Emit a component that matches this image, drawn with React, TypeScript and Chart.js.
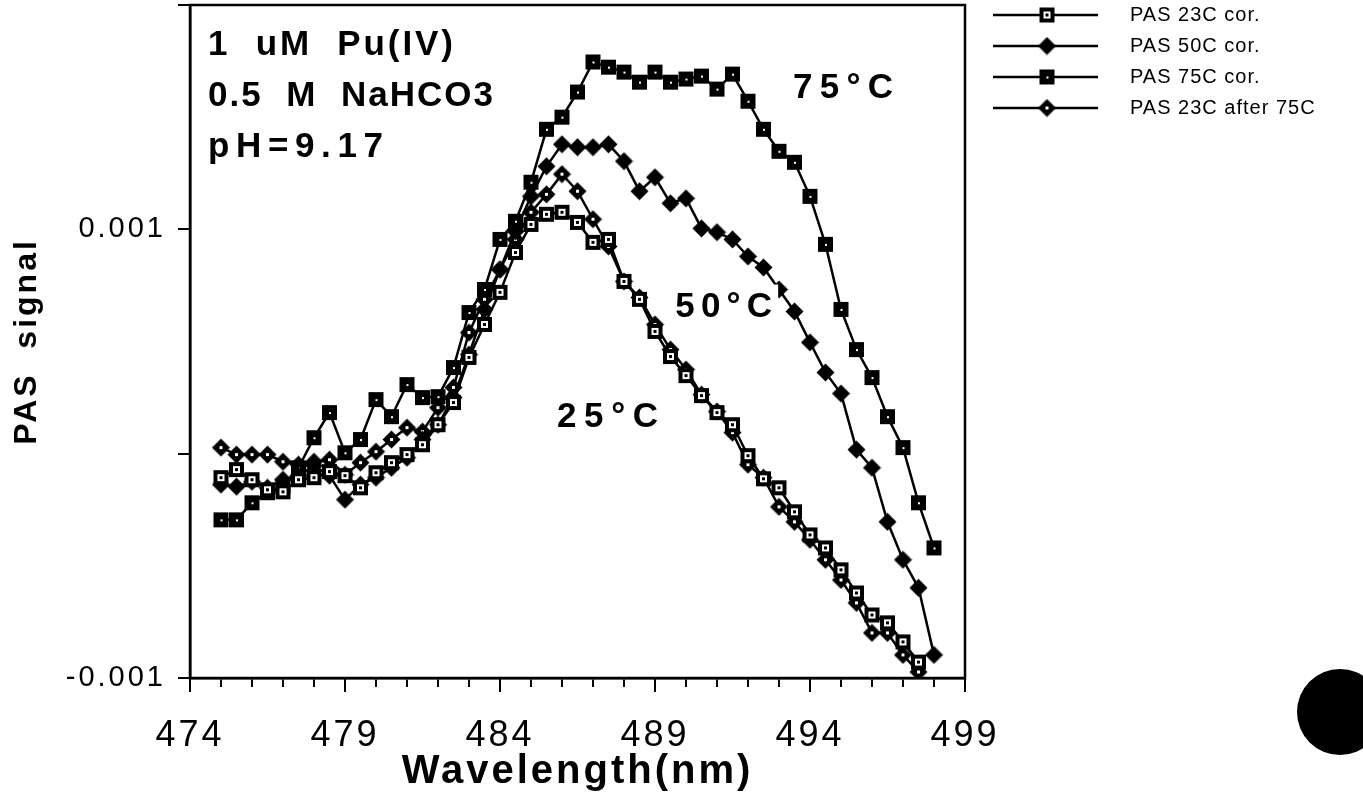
import React, { useEffect, useRef } from 'react';
import { Chart, registerables } from 'chart.js';

Chart.register(...registerables);

// ---------- data ----------
const wavelengths = [
  475, 475.5, 476, 476.5, 477, 477.5, 478, 478.5, 479, 479.5,
  480, 480.5, 481, 481.5, 482, 482.5, 483, 483.5, 484, 484.5,
  485, 485.5, 486, 486.5, 487, 487.5, 488, 488.5, 489, 489.5,
  490, 490.5, 491, 491.5, 492, 492.5, 493, 493.5, 494, 494.5,
  495, 495.5, 496, 496.5, 497, 497.5, 498,
];

const pas23 = [
  -0.107e-3, -0.071e-3, -0.116e-3, -0.161e-3, -0.170e-3, -0.116e-3, -0.107e-3, -0.080e-3, -0.098e-3, -0.152e-3,
  -0.085e-3, -0.040e-3, -0.004e-3, 0.040e-3, 0.129e-3, 0.228e-3, 0.429e-3, 0.576e-3, 0.719e-3, 0.897e-3,
  1.022e-3, 1.067e-3, 1.076e-3, 1.031e-3, 0.942e-3, 0.955e-3, 0.768e-3, 0.688e-3, 0.545e-3, 0.433e-3,
  0.348e-3, 0.259e-3, 0.183e-3, 0.129e-3, -0.009e-3, -0.112e-3, -0.152e-3, -0.259e-3, -0.362e-3, -0.420e-3,
  -0.518e-3, -0.621e-3, -0.719e-3, -0.754e-3, -0.839e-3, -0.929e-3, null,
];

const pas50 = [
  -0.138e-3, -0.147e-3, -0.125e-3, -0.152e-3, -0.116e-3, -0.098e-3, -0.054e-3, -0.098e-3, -0.205e-3, -0.138e-3,
  -0.107e-3, -0.063e-3, -0.018e-3, 0.063e-3, 0.129e-3, 0.250e-3, 0.442e-3, 0.643e-3, 0.821e-3, 0.991e-3,
  1.147e-3, 1.281e-3, 1.379e-3, 1.366e-3, 1.366e-3, 1.379e-3, 1.304e-3, 1.170e-3, 1.232e-3, 1.116e-3,
  1.138e-3, 1.004e-3, 0.987e-3, 0.955e-3, 0.879e-3, 0.830e-3, 0.732e-3, 0.634e-3, 0.496e-3, 0.362e-3,
  0.268e-3, 0.018e-3, -0.063e-3, -0.304e-3, -0.473e-3, -0.598e-3, -0.897e-3,
];

const pas75 = [
  -0.295e-3, -0.295e-3, -0.219e-3, -0.174e-3, -0.147e-3, -0.063e-3, 0.071e-3, 0.183e-3, 0.004e-3, 0.063e-3,
  0.241e-3, 0.165e-3, 0.308e-3, 0.250e-3, 0.254e-3, 0.384e-3, 0.629e-3, 0.732e-3, 0.955e-3, 1.036e-3,
  1.210e-3, 1.446e-3, 1.500e-3, 1.612e-3, 1.746e-3, 1.723e-3, 1.701e-3, 1.656e-3, 1.701e-3, 1.656e-3,
  1.670e-3, 1.683e-3, 1.625e-3, 1.692e-3, 1.571e-3, 1.446e-3, 1.348e-3, 1.299e-3, 1.147e-3, 0.933e-3,
  0.643e-3, 0.464e-3, 0.339e-3, 0.165e-3, 0.027e-3, -0.219e-3, -0.420e-3,
];

const pas23after75 = [
  0.027e-3, -0.004e-3, -0.004e-3, -0.004e-3, -0.036e-3, -0.049e-3, -0.036e-3, -0.027e-3, -0.094e-3, -0.040e-3,
  0.009e-3, 0.063e-3, 0.116e-3, 0.098e-3, 0.205e-3, 0.295e-3, 0.540e-3, 0.688e-3, 0.821e-3, 0.955e-3,
  1.076e-3, 1.156e-3, 1.246e-3, 1.170e-3, 1.045e-3, 0.924e-3, 0.768e-3, 0.696e-3, 0.576e-3, 0.464e-3,
  0.375e-3, 0.263e-3, 0.188e-3, 0.094e-3, -0.049e-3, -0.107e-3, -0.237e-3, -0.304e-3, -0.384e-3, -0.473e-3,
  -0.563e-3, -0.665e-3, -0.799e-3, -0.799e-3, -0.897e-3, -0.973e-3, null,
];

const seriesLabels = ['PAS 23C cor.', 'PAS 50C cor.', 'PAS 75C cor.', 'PAS 23C after 75C'];
const xTickLabels = [474, 479, 484, 489, 494, 499];
const yTickLabels = [-0.001, 0.001];
const infoLines = ['1  uM  Pu(IV)', '0.5  M  NaHCO3', 'pH=9.17'];
const tempLabels = ['75°C', '50°C', '25°C'];
const xTitle = 'Wavelength(nm)';
const yTitle = 'PAS  signal';

// ---------- layout / style (not data) ----------
const FONT = '"Liberation Sans", Arial, Helvetica, sans-serif';
const infoAnchor = { x: 474.58, ys: [1.777e-3, 1.549e-3, 1.321e-3], widths: [245, 285, 175] };
const tempAnchors = [
  { x: 493.45, y: 1.585e-3, w: 100 },
  { x: 489.65, y: 0.607e-3, w: 97 },
  { x: 485.84, y: 0.121e-3, w: 101 },
];

function makeMarker(kind: string): HTMLCanvasElement {
  const c = document.createElement('canvas');
  c.width = 19;
  c.height = 19;
  const g = c.getContext('2d')!;
  g.fillStyle = '#000';
  if (kind === 'openSquare') {
    g.fillRect(2, 2, 15, 15);
    g.fillStyle = '#fff';
    g.fillRect(6, 6, 7, 7);
    g.fillStyle = '#000';
    g.fillRect(8, 8, 3, 3);
  } else if (kind === 'filledSquare') {
    g.fillRect(2, 2, 15, 15);
    g.fillStyle = '#fff';
    g.fillRect(9, 9, 2, 2);
  } else {
    g.beginPath();
    g.moveTo(9.5, 0.5);
    g.lineTo(18.5, 9.5);
    g.lineTo(9.5, 18.5);
    g.lineTo(0.5, 9.5);
    g.closePath();
    g.fill();
    if (kind === 'openDiamond') {
      g.fillStyle = '#fff';
      g.fillRect(8, 8, 3, 3);
    }
  }
  return c;
}

function fitText(ctx: CanvasRenderingContext2D, text: string, x: number, y: number, width: number) {
  (ctx as any).letterSpacing = '0px';
  const w = ctx.measureText(text).width;
  const ls = (width - w) / Math.max(1, text.length - 1);
  (ctx as any).letterSpacing = `${ls}px`;
  ctx.fillText(text, x, y);
  (ctx as any).letterSpacing = '0px';
}

const decorPlugin = {
  id: 'decor',
  beforeDraw(chart: any) {
    const ctx = chart.ctx;
    ctx.save();
    ctx.fillStyle = '#fff';
    ctx.fillRect(0, 0, chart.width, chart.height);
    ctx.restore();
    ctx.letterSpacing = '3px';
  },
  afterDatasetsDraw(chart: any) {
    const { ctx } = chart;
    const xs = chart.scales.x;
    const ys = chart.scales.y;
    ctx.save();
    ctx.letterSpacing = '0px';
    ctx.textBaseline = 'alphabetic';
    ctx.textAlign = 'left';
    ctx.font = `bold 35px ${FONT}`;
    infoLines.forEach((t, i) => {
      const x = xs.getPixelForValue(infoAnchor.x);
      const y = ys.getPixelForValue(infoAnchor.ys[i]);
      ctx.fillStyle = '#000';
      fitText(ctx, t, x, y, infoAnchor.widths[i]);
    });
    tempLabels.forEach((t, i) => {
      const a = tempAnchors[i];
      const x = xs.getPixelForValue(a.x);
      const y = ys.getPixelForValue(a.y);
      ctx.fillStyle = '#fff';
      ctx.fillRect(x - 4, y - 33, a.w + 10, 38);
      ctx.fillStyle = '#000';
      fitText(ctx, t, x, y, a.w);
    });
    ctx.restore();
  },
  afterDraw(chart: any) {
    const { ctx, chartArea: a } = chart;
    const xs = chart.scales.x;
    ctx.save();
    ctx.letterSpacing = '0px';
    ctx.strokeStyle = '#000';
    ctx.lineWidth = 2.5;
    ctx.strokeRect(a.left, a.top, a.right - a.left, a.bottom - a.top);
    ctx.lineWidth = 2;
    for (const v of xTickLabels) {
      const px = Math.round(xs.getPixelForValue(v));
      ctx.beginPath();
      ctx.moveTo(px, a.bottom);
      ctx.lineTo(px, a.bottom + 14);
      ctx.stroke();
    }
    const rowY = [15, 46, 77, 108];
    chart.data.datasets.forEach((ds: any, i: number) => {
      const y = rowY[i];
      ctx.strokeStyle = '#000';
      ctx.lineWidth = 2.5;
      ctx.beginPath();
      ctx.moveTo(993, y);
      ctx.lineTo(1098, y);
      ctx.stroke();
      const img = ds.pointStyle as HTMLCanvasElement;
      ctx.drawImage(img, 1047 - img.width / 2, y - img.height / 2);
      ctx.fillStyle = '#000';
      ctx.font = `20px ${FONT}`;
      ctx.textBaseline = 'middle';
      ctx.textAlign = 'left';
      ctx.letterSpacing = '1px';
      ctx.fillText(ds.label, 1130, y);
    });
    ctx.fillStyle = '#000';
    ctx.beginPath();
    ctx.arc(1340, 712, 43, 0, Math.PI * 2);
    ctx.fill();
    ctx.restore();
  },
};

export default function App() {
  const ref = useRef<HTMLCanvasElement>(null);
  useEffect(() => {
    const canvas = ref.current!;
    const styles = ['openSquare', 'filledDiamond', 'filledSquare', 'openDiamond'];
    const series = [pas23, pas50, pas75, pas23after75];
    const datasets = series.map((vals, i) => ({
      label: seriesLabels[i],
      data: wavelengths.map((w, j) => ({ x: w, y: vals[j] })),
      borderColor: '#000',
      backgroundColor: '#000',
      borderWidth: 2.5,
      pointStyle: makeMarker(styles[i]),
      pointRadius: 8,
      tension: 0,
      spanGaps: false,
      fill: false,
    }));
    const chart = new Chart(canvas, {
      type: 'line',
      data: { datasets },
      options: {
        animation: false,
        responsive: false,
        devicePixelRatio: 1,
        layout: { autoPadding: false, padding: { top: 5, right: 398, bottom: 0, left: 0 } },
        plugins: { legend: { display: false }, tooltip: { enabled: false } },
        scales: {
          x: {
            type: 'linear',
            min: 474,
            max: 499,
            afterFit: (s: any) => { s.height = 118; s.paddingLeft = 0; s.paddingRight = 0; },
            ticks: {
              stepSize: 1,
              autoSkip: false,
              maxRotation: 0,
              color: '#000',
              padding: 27,
              font: { family: FONT, size: 36 },
              callback: (v: any) => (xTickLabels.includes(Number(v)) ? String(v) : ''),
            },
            grid: { drawOnChartArea: false, drawTicks: true, tickLength: 9, color: '#000', lineWidth: 2 },
            border: { display: true, color: '#000', width: 2.5 },
            title: {
              display: true,
              text: xTitle,
              color: '#000',
              font: { family: FONT, size: 40, weight: 'bold' },
              padding: { top: 0, bottom: 0 },
            },
          },
          y: {
            type: 'linear',
            min: -0.001,
            max: 0.002,
            afterFit: (s: any) => { s.width = 190; s.paddingTop = 0; s.paddingBottom = 0; },
            ticks: {
              stepSize: 0.001,
              color: '#000',
              padding: 12,
              font: { family: FONT, size: 29 },
              callback: (v: any) => {
                const t = yTickLabels.find((l) => Math.abs(l - Number(v)) < 1e-9);
                return t === undefined ? '' : String(t);
              },
            },
            grid: { drawOnChartArea: false, drawTicks: true, tickLength: 12, color: '#000', lineWidth: 2 },
            border: { display: true, color: '#000', width: 2.5 },
            title: {
              display: true,
              text: yTitle,
              color: '#000',
              font: { family: FONT, size: 32, weight: 'bold' },
              padding: { top: 8, bottom: 0 },
            },
          },
        },
      } as any,
      plugins: [decorPlugin],
    });
    return () => chart.destroy();
  }, []);
  return (
    <div style={{ position: 'fixed', left: 0, top: 0, width: 1363, height: 796, background: '#fff' }}>
      <canvas ref={ref} width={1363} height={796} style={{ display: 'block' }} />
    </div>
  );
}
